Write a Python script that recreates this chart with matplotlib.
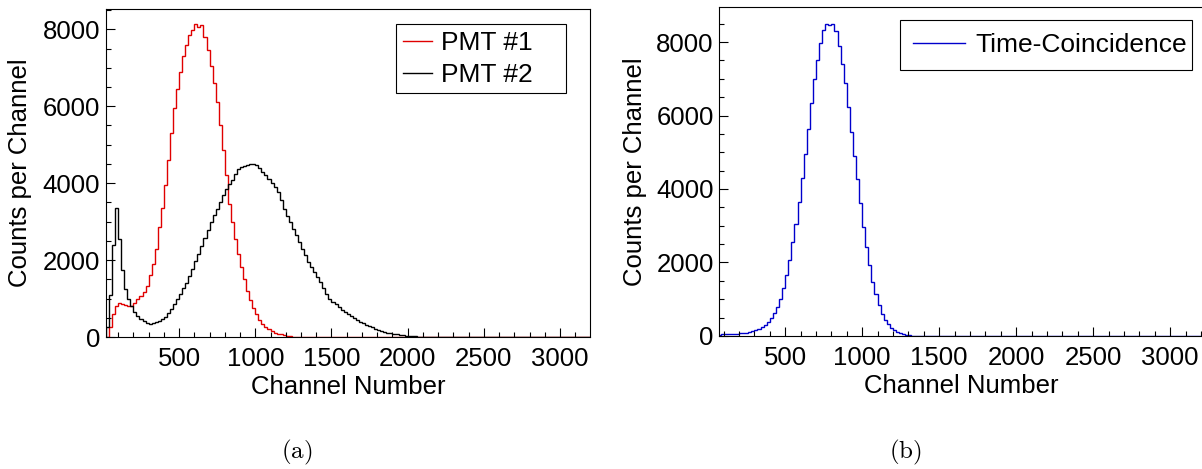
import numpy as np
import matplotlib.pyplot as plt
from matplotlib.ticker import MultipleLocator

plt.rcParams['font.family'] = ['Liberation Sans', 'DejaVu Sans']
plt.rcParams['mathtext.fontset'] = 'cm'

# ==============================
# Data (counts per 20-channel bin)
# ==============================
bin_width = 20

# PMT #1, bins start at channel 0
pmt1_start = 0
pmt1_counts = [
    0, 0, 250, 600, 800, 880, 870, 820, 800, 810,
    880, 980, 1060, 1180, 1330, 1600, 1900, 2300, 2850, 3350,
    3950, 4600, 5300, 5950, 6450, 6900, 7300, 7600, 7850, 7980,
    8130, 8060, 8120, 7800, 7450, 7050, 6600, 6100, 5500, 4850,
    4200, 3450, 3000, 2550, 2150, 1830, 1500, 1200, 950, 760,
    600, 450, 350, 270, 200, 150, 115, 90, 70, 50,
    30, 18, 10, 6, 3,
]

# PMT #2, bins start at channel 0
pmt2_start = 0
pmt2_counts = [
    0, 250, 1100, 2400, 3350, 2550, 1750, 1250, 980, 800,
    650, 550, 470, 410, 370, 350, 360, 380, 410, 460,
    530, 620, 730, 860, 990, 1130, 1270, 1400, 1580, 1780,
    1980, 2170, 2370, 2580, 2780, 2980, 3170, 3330, 3500, 3680,
    3850, 3980, 4080, 4250, 4380, 4420, 4440, 4470, 4510, 4500,
    4470, 4390, 4300, 4200, 4100, 4000, 3900, 3760, 3560, 3340,
    3150, 2980, 2820, 2650, 2470, 2300, 2120, 1960, 1820, 1690,
    1560, 1420, 1280, 1130, 1000, 920, 850, 790, 710, 650,
    590, 540, 495, 450, 400, 360, 320, 285, 250, 215,
    185, 155, 130, 110, 92, 78, 66, 56, 46, 37,
    30, 22, 16, 12, 9, 7, 5, 4, 3, 2,
]

# Time-coincidence spectrum, bins start at channel 60
coinc_start = 60
coinc_counts = [
    40, 45, 48, 50, 55, 58, 62, 70, 80, 95,
    110, 130, 160, 195, 240, 310, 390, 500, 630, 790,
    1010, 1300, 1670, 2080, 2550, 3060, 3640, 4290, 4950, 5620,
    6330, 6990, 7520, 7980, 8320, 8500, 8450, 8480, 8300, 7880,
    7400, 6880, 6220, 5560, 4890, 4260, 3610, 2960, 2420, 1920,
    1470, 1130, 840, 610, 440, 320, 225, 160, 115, 80,
    55, 35, 20, 12, 7, 4, 2, 1,
]

x_end = 3220  # spectra are empty up to the end of the range


def padded(start, counts):
    counts = np.asarray(counts, dtype=float)
    n_zero = int((x_end - start) / bin_width) - len(counts)
    values = np.concatenate([counts, np.zeros(max(n_zero, 0))])
    edges = start + bin_width * np.arange(len(values) + 1)
    return edges, values


def style_axes(ax):
    for s in ax.spines.values():
        s.set_linewidth(0.8)
    ax.tick_params(which='both', direction='in', top=False, right=False,
                   width=0.8, labelsize=18.5)
    ax.tick_params(which='major', length=6.5)
    ax.tick_params(which='minor', length=3.6)
    ax.tick_params(axis='x', pad=7)
    ax.tick_params(axis='y', pad=4)
    ax.xaxis.set_major_locator(MultipleLocator(500))
    ax.xaxis.set_minor_locator(MultipleLocator(100))
    ax.yaxis.set_major_locator(MultipleLocator(2000))
    ax.yaxis.set_minor_locator(MultipleLocator(500))
    ax.set_xlabel('Channel Number', fontsize=18.5, labelpad=3)
    ax.set_ylabel('Counts per Channel', fontsize=18.5)


fig = plt.figure(figsize=(12.02, 4.69), dpi=100)

# ==============================
# (a) PMT #1 and PMT #2
# ==============================
ax1 = fig.add_axes([0.0879, 0.2814, 0.4029, 0.6987])
e, v = padded(pmt1_start, pmt1_counts)
ax1.stairs(v, e, color='#e00000', lw=1.0, label='PMT #1')
e, v = padded(pmt2_start, pmt2_counts)
ax1.stairs(v, e, color='black', lw=1.0, label='PMT #2')
ax1.set_xlim(18, 3196)
ax1.set_ylim(0, 8520)
style_axes(ax1)
ax1.yaxis.set_label_coords(-0.152, 0.5)
leg = ax1.legend(loc='upper left', bbox_to_anchor=(0.5994, 0.7437, 0.351, 0.2105),
                 mode='expand', borderaxespad=0, fontsize=19, fancybox=False,
                 edgecolor='black', framealpha=1, handlelength=1.1,
                 handletextpad=0.35, borderpad=0.25, labelspacing=0.3)
leg.get_frame().set_linewidth(0.8)

# ==============================
# (b) Time coincidence
# ==============================
ax2 = fig.add_axes([0.5984, 0.2836, 0.4024, 0.7008])
e, v = padded(coinc_start, coinc_counts)
ax2.stairs(v, e, color='#0000cc', lw=1.0, label='Time-Coincidence')
ax2.set_xlim(72, 3213)
ax2.set_ylim(0, 8944)
style_axes(ax2)
ax2.yaxis.set_label_coords(-0.1495, 0.5)
leg = ax2.legend(loc='upper left', bbox_to_anchor=(0.3736, 0.8032, 0.6037, 0.158),
                 mode='expand', borderaxespad=0, fontsize=19, fancybox=False,
                 edgecolor='black', framealpha=1, handlelength=1.95,
                 handletextpad=0.4, borderpad=0.5)
leg.get_frame().set_linewidth(0.8)

# sub-figure captions
fig.text(297 / 1202, 1 - 438 / 469, r'$\mathrm{(a)}$', fontsize=18, ha='center', va='top')
fig.text(905 / 1202, 1 - 438 / 469, r'$\mathrm{(b)}$', fontsize=18, ha='center', va='top')

fig.savefig('out.png', dpi=100)
